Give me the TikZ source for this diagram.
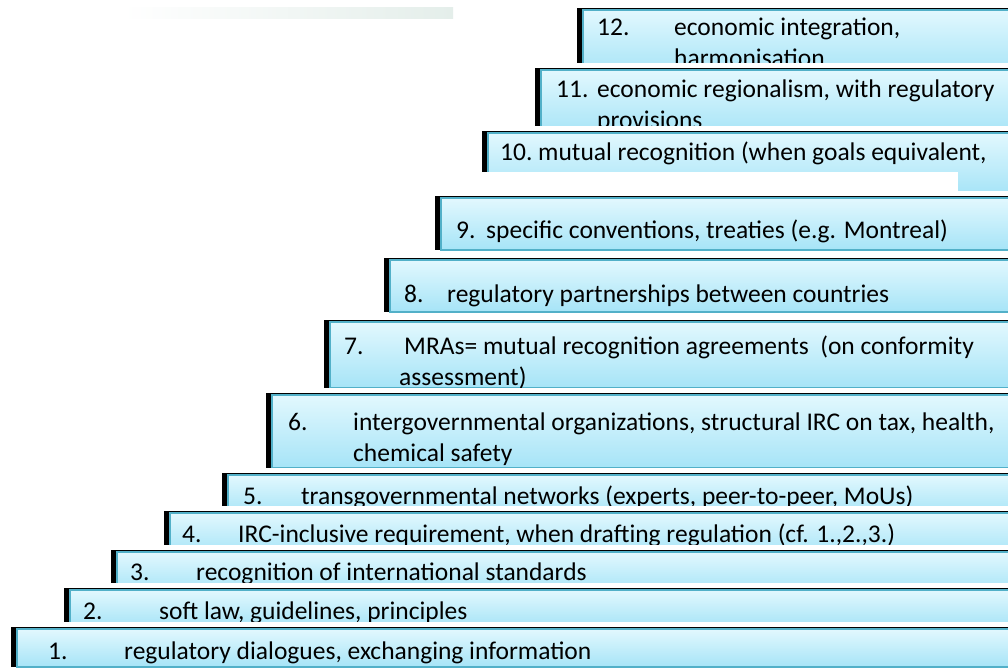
\documentclass[tikz,border=0pt]{standalone}
\usepackage{fontspec}
\setmainfont{Carlito}
\definecolor{barTop}{HTML}{E2F8FE}
\definecolor{barBot}{HTML}{A6E4F7}
\definecolor{barLine}{HTML}{52B0C8}
\definecolor{fadeGrey}{HTML}{E4EEEA}
\begin{document}
\begin{tikzpicture}[x=1pt,y=-1pt,
    gap/.style={fill=white},
    shadow/.style={fill=black},
    barbody/.style={top color=barTop,bottom color=barBot,draw=barLine,line width=1.4pt},
    num/.style={anchor=base west,inner sep=0pt,font=\fontsize{25.5}{30}\selectfont},
    txt/.style={num}]
    \useasboundingbox[fill=white] (0,0) rectangle (1008,670);
    \shade[left color=white,right color=fadeGrey] (122,7) rectangle (453,18);

    % 12
    \fill[shadow] (577,8) rectangle (1012,75);
    \shade[barbody] (583,10) rectangle (1012,75);
    \node[num] (n12) at (597,35) {12.};
    \node[txt] (t12) at (674,35) {economic integration,};
    \node[txt] (t12b) at (674,66) {harmonisation};
    % 11
    \fill[gap] (531,63) rectangle (1012,70);
    \fill[shadow] (535,68) rectangle (1012,135);
    \shade[barbody] (541,70) rectangle (1012,135);
    \node[num] (n11) at (556,97) {11.};
    \node[txt] (t11) at (597,97) {economic regionalism, with regulatory};
    \node[txt] (t11b) at (597,128) {provisions};
    % 10
    \fill[gap] (478,126) rectangle (1012,133);
    \fill[shadow] (482,131) rectangle (1012,194);
    \shade[barbody] (488,133) rectangle (1012,194);
    \node[num] (n10) at (500,160) {10.};
    \node[txt] (t10) at (538,160) {mutual recognition (when goals equivalent,};
    \fill[gap] (478,172) rectangle (958,197);
    % 9
    \fill[gap] (431,191) rectangle (1012,198);
    \fill[shadow] (435,196) rectangle (1012,250);
    \shade[barbody] (441,198) rectangle (1012,250);
    \node[num] (n9) at (456,238) {9.};
    \node[txt] (t9) at (486,238) {specific conventions, treaties (e.g. Montreal)};
    % 8
    \fill[gap] (380,253) rectangle (1012,260);
    \fill[shadow] (384,258) rectangle (1012,312);
    \shade[barbody] (390,260) rectangle (1012,312);
    \node[num] (n8) at (404,302) {8.};
    \node[txt] (t8) at (447,302) {regulatory partnerships between countries};
    % 7
    \fill[gap] (320,315) rectangle (1012,322);
    \fill[shadow] (324,320) rectangle (1012,388);
    \shade[barbody] (330,322) rectangle (1012,388);
    \node[num] (n7) at (344,354) {7.};
    \node[txt] (t7) at (404,354) {MRAs= mutual recognition agreements\ \ (on conformity};
    \node[txt] (t7b) at (399,385) {assessment)};
    % 6
    \fill[gap] (262,388) rectangle (1012,395);
    \fill[shadow] (266,393) rectangle (1012,468);
    \shade[barbody] (272,395) rectangle (1012,468);
    \node[num] (n6) at (288,430) {6.};
    \node[txt] (t6) at (353,430) {intergovernmental organizations, structural IRC on tax, health,};
    \node[txt] (t6b) at (353,461) {chemical safety};
    % 5
    \fill[gap] (218,468) rectangle (1012,475);
    \fill[shadow] (222,473) rectangle (1012,515);
    \shade[barbody] (228,475) rectangle (1012,515);
    \node[num] (n5) at (243,504) {5.};
    \node[txt] (t5) at (301,504) {transgovernmental networks (experts, peer-to-peer, MoUs)};
    % 4
    \fill[gap] (160,506) rectangle (1012,513);
    \fill[shadow] (164,511) rectangle (1012,555);
    \shade[barbody] (170,513) rectangle (1012,555);
    \node[num] (n4) at (182,542) {4.};
    \node[txt] (t4) at (238,542) {IRC-inclusive requirement, when drafting regulation (cf. 1.,2.,3.)};
    % 3
    \fill[gap] (107,545) rectangle (1012,552);
    \fill[shadow] (111,550) rectangle (1012,592);
    \shade[barbody] (117,552) rectangle (1012,592);
    \node[num] (n3) at (130,580) {3.};
    \node[txt] (t3) at (196,580) {recognition of international standards};
    % 2
    \fill[gap] (60,583) rectangle (1012,590);
    \fill[shadow] (64,588) rectangle (1012,627);
    \shade[barbody] (70,590) rectangle (1012,627);
    \node[num] (n2) at (83,619) {2.};
    \node[txt] (t2) at (159,619) {soft law, guidelines, principles};
    % 1
    \fill[gap] (7,622) rectangle (1012,629);
    \fill[shadow] (11,627) rectangle (1012,667);
    \shade[barbody] (17,629) rectangle (1012,667);
    \node[num] (n1) at (48,659) {1.};
    \node[txt] (t1) at (124,659) {regulatory dialogues, exchanging information};
\end{tikzpicture}
\end{document}
